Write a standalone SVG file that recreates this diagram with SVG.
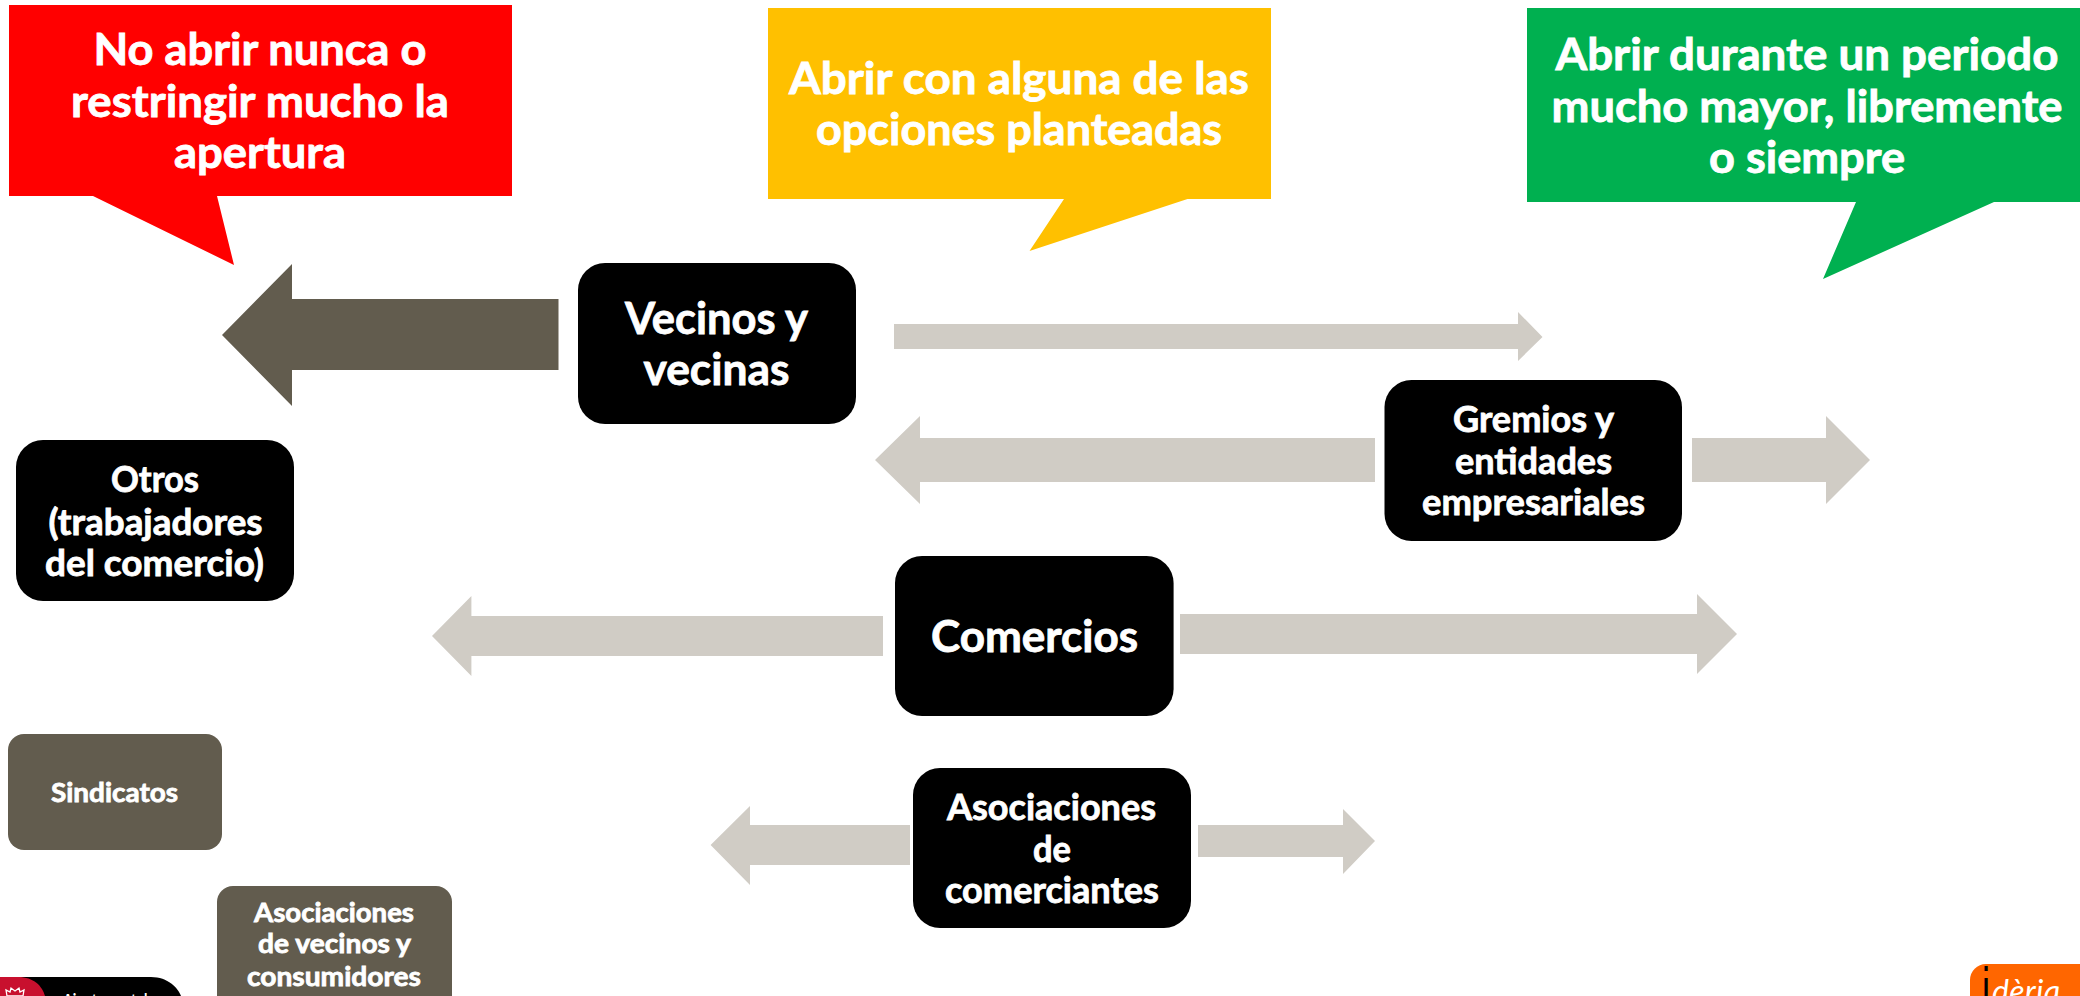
<svg xmlns="http://www.w3.org/2000/svg" width="2080" height="996" viewBox="0 0 2080 996">
<style>
text{font-family:"Lato","Open Sans","Liberation Sans",sans-serif;font-weight:700;text-anchor:middle;fill:#fff;stroke:#fff;stroke-width:.8px}
.big{font-size:43px}.sm{font-size:36px}.xs{font-size:27px}
.n{fill:#000}.d{fill:#625C4E}.a{fill:#D0CCC5}
</style>
<rect width="2080" height="996" fill="#fff"/>
<g id="connectors">
<polygon class="d" points="222,335 292,264 292,299 558.500,299 558.500,370 292,370 292,406"/>
<polygon class="a" points="894,324 1518,324 1518,312 1542.500,337 1518,361 1518,349 894,349"/>
<polygon class="a" points="875,460 920,416 920,438 1375,438 1375,482 920,482 920,504"/>
<polygon class="a" points="1692,438 1826,438 1826,416 1870,460 1826,504 1826,482 1692,482"/>
<polygon class="a" points="432,636 471.400,596 471.400,616 883,616 883,656 471.400,656 471.400,676"/>
<polygon class="a" points="1180,614 1697,614 1697,594 1737,634 1697,674 1697,654 1180,654"/>
<polygon class="a" points="710.600,845 750,806 750,825 910,825 910,865 750,865 750,885"/>
<polygon class="a" points="1198,825 1343,825 1343,809 1375,841 1343,874 1343,857 1198,857"/>
</g>
<g id="callout-red"><polygon fill="#FF0000" points="9,5 512,5 512,196 217,196 234,265 93,196 9,196"/>
<text class="big" x="260" y="65" textLength="333" lengthAdjust="spacingAndGlyphs">No abrir nunca o</text>
<text class="big" x="260" y="117" textLength="378" lengthAdjust="spacingAndGlyphs">restringir mucho la</text>
<text class="big" x="260" y="168" textLength="172" lengthAdjust="spacingAndGlyphs">apertura</text></g>
<g id="callout-yellow"><polygon fill="#FFC000" points="768,8 1271,8 1271,199 1187.500,199 1029.500,251 1064,199 768,199"/>
<text class="big" x="1019" y="94" textLength="460" lengthAdjust="spacingAndGlyphs">Abrir con alguna de las</text>
<text class="big" x="1019" y="145" textLength="406" lengthAdjust="spacingAndGlyphs">opciones planteadas</text></g>
<g id="callout-green"><polygon fill="#00B050" points="1527,8 2080,8 2080,202 1994,202 1823,279 1856,202 1527,202"/>
<text class="big" x="1807" y="70" textLength="503" lengthAdjust="spacingAndGlyphs">Abrir durante un periodo</text>
<text class="big" x="1807" y="122" textLength="511" lengthAdjust="spacingAndGlyphs">mucho mayor, libremente</text>
<text class="big" x="1807" y="173" textLength="196" lengthAdjust="spacingAndGlyphs">o siempre</text></g>
<g id="vecinos"><rect class="n" x="578" y="263" width="278" height="161" rx="27"/>
<text class="big" x="716.500" y="334" textLength="183" lengthAdjust="spacingAndGlyphs">Vecinos y</text>
<text class="big" x="716.500" y="385" textLength="146" lengthAdjust="spacingAndGlyphs">vecinas</text></g>
<g id="gremios"><rect class="n" x="1384.500" y="380" width="297.500" height="161" rx="27"/>
<text class="sm" x="1533.500" y="432" textLength="161" lengthAdjust="spacingAndGlyphs">Gremios y</text>
<text class="sm" x="1533.500" y="474" textLength="157" lengthAdjust="spacingAndGlyphs">entidades</text>
<text class="sm" x="1533.500" y="515" textLength="223" lengthAdjust="spacingAndGlyphs">empresariales</text></g>
<g id="otros"><rect class="n" x="16" y="440" width="278" height="161" rx="27"/>
<text class="sm" x="155" y="492" textLength="88" lengthAdjust="spacingAndGlyphs">Otros</text>
<text class="sm" x="155.500" y="535" textLength="214" lengthAdjust="spacingAndGlyphs">(trabajadores</text>
<text class="sm" x="154.500" y="576" textLength="219" lengthAdjust="spacingAndGlyphs">del comercio)</text></g>
<g id="comercios"><rect class="n" x="895" y="556" width="278.600" height="160" rx="27"/>
<text class="big" x="1034.500" y="652" textLength="207" lengthAdjust="spacingAndGlyphs">Comercios</text></g>
<g id="asociaciones"><rect class="n" x="913" y="768" width="278" height="160" rx="27"/>
<text class="sm" x="1051.500" y="820" textLength="209" lengthAdjust="spacingAndGlyphs">Asociaciones</text>
<text class="sm" x="1052" y="862" textLength="38" lengthAdjust="spacingAndGlyphs">de</text>
<text class="sm" x="1052" y="903" textLength="214" lengthAdjust="spacingAndGlyphs">comerciantes</text></g>
<g id="sindicatos"><rect class="d" x="8" y="734" width="214" height="116" rx="16"/>
<text class="xs" x="114.500" y="802" textLength="127" lengthAdjust="spacingAndGlyphs">Sindicatos</text></g>
<g id="asoc-vecinos"><rect class="d" x="217" y="886" width="235" height="130" rx="16"/>
<text class="xs" x="334" y="922" textLength="160" lengthAdjust="spacingAndGlyphs">Asociaciones</text>
<text class="xs" x="334.500" y="953" textLength="153" lengthAdjust="spacingAndGlyphs">de vecinos y</text>
<text class="xs" x="334" y="986" textLength="174" lengthAdjust="spacingAndGlyphs">consumidores</text></g>
<g id="logo-ajuntament">
<path d="M0,977H151C168,977 178,988 181,996V1010H0Z" fill="#000"/>
<path d="M0,977H18C34,977 42,986 45,996H0Z" fill="#C8102E"/>
<path d="M7,996 6,990 10,992 11,988 15,991 19,988 20,992 24,990 23,996Z" fill="none" stroke="#fff" stroke-width="1.300"/>
<text x="109" y="1006" style="font-size:17px;stroke-width:0" textLength="92" lengthAdjust="spacingAndGlyphs">Ajuntament de</text>
</g>
<g id="logo-ideria">
<rect x="1970" y="964" width="126" height="60" rx="16" fill="#FF6600"/>
<text x="1986" y="1009" style="font-family:'Liberation Sans',sans-serif;font-size:60px;font-weight:400;fill:#000;stroke-width:0" textLength="8" lengthAdjust="spacingAndGlyphs">i</text>
<text x="2026" y="1003" style="font-size:32px;font-weight:400;font-style:italic;stroke-width:0" textLength="68" lengthAdjust="spacing">dèria</text>
</g>
</svg>
